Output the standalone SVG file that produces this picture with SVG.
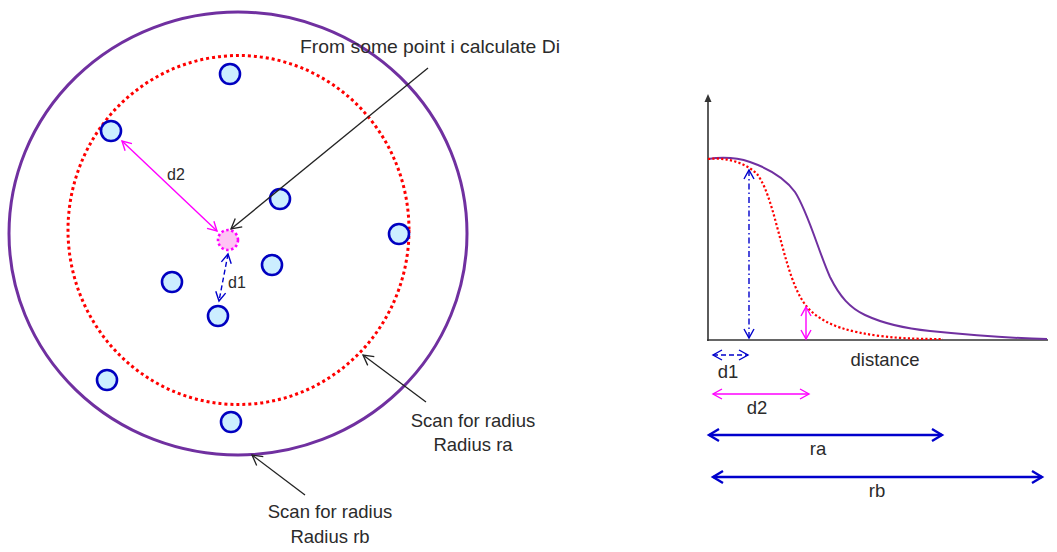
<svg xmlns="http://www.w3.org/2000/svg" width="1057" height="552" viewBox="0 0 1057 552">
<style>
text{font-family:"Liberation Sans",Arial,sans-serif;fill:#2b2b2b}
.lbl{font-size:18.5px}
.sm{font-size:16px}
.pt{fill:#cceeff;stroke:#0000c0;stroke-width:2.6}
.blk{stroke:#222;stroke-width:1.3;fill:none}
</style>
<defs>
<marker id="mBlk" markerUnits="userSpaceOnUse" viewBox="0 0 12 12" refX="11" refY="6" markerWidth="12" markerHeight="12" orient="auto-start-reverse" overflow="visible"><path d="M1,0.5 L11,6 L1,11.5" fill="none" stroke="#222" stroke-width="1.3"/></marker>
<marker id="mMag" markerUnits="userSpaceOnUse" viewBox="0 0 12 12" refX="11" refY="6" markerWidth="12" markerHeight="12" orient="auto-start-reverse" overflow="visible"><path d="M2,1 L11,6 L2,11" fill="none" stroke="#ff00ff" stroke-width="1.4"/></marker>
<marker id="mBlu" markerUnits="userSpaceOnUse" viewBox="0 0 12 12" refX="11" refY="6" markerWidth="12" markerHeight="12" orient="auto-start-reverse" overflow="visible"><path d="M2,1 L11,6 L2,11" fill="none" stroke="#0000cc" stroke-width="1.4"/></marker>
<marker id="mBluT" markerUnits="userSpaceOnUse" viewBox="0 0 14 14" refX="12" refY="7" markerWidth="14" markerHeight="14" orient="auto-start-reverse" overflow="visible"><path d="M2,1 L12,7 L2,13" fill="none" stroke="#0000cc" stroke-width="2.4"/></marker>
</defs>

<g id="rings">
<ellipse id="ring-rb" cx="238" cy="233.5" rx="229" ry="221.5" fill="none" stroke="#7030a0" stroke-width="3"/>
<ellipse id="ring-ra" cx="238.5" cy="230" rx="170.5" ry="174.5" fill="none" stroke="#ff0000" stroke-width="3" stroke-dasharray="3 3"/>
</g>

<g id="points">
<g id="p1"><circle class="pt" cx="230" cy="74" r="10"/></g>
<g id="p2"><circle class="pt" cx="111" cy="131" r="10"/></g>
<g id="p3"><circle class="pt" cx="280" cy="199" r="10"/></g>
<g id="p4"><circle class="pt" cx="399" cy="234" r="10"/></g>
<g id="p5"><circle class="pt" cx="172" cy="282" r="10"/></g>
<g id="p6"><circle class="pt" cx="272" cy="265" r="10"/></g>
<g id="p7"><circle class="pt" cx="218" cy="316" r="10"/></g>
<g id="p8"><circle class="pt" cx="107" cy="380" r="10"/></g>
<g id="p9"><circle class="pt" cx="231" cy="422" r="10"/></g>
<g id="pi"><circle cx="228" cy="240" r="10" fill="#ffc4f4" stroke="#ff00ff" stroke-width="2.6" stroke-dasharray="2.5 2.5"/></g>
</g>

<g id="connectors">
<line x1="428" y1="68" x2="231" y2="229" class="blk" marker-end="url(#mBlk)"/>
<line x1="426" y1="402" x2="363" y2="355" class="blk" marker-end="url(#mBlk)"/>
<line x1="305" y1="495" x2="252" y2="455" class="blk" marker-end="url(#mBlk)"/>
<line x1="122" y1="141" x2="217" y2="231" stroke="#ff00ff" stroke-width="1.4" marker-start="url(#mMag)" marker-end="url(#mMag)"/>
<line x1="228" y1="254" x2="219" y2="301" stroke="#0000cc" stroke-width="1.4" stroke-dasharray="5 3" marker-start="url(#mBlu)" marker-end="url(#mBlu)"/>
</g>

<g id="labels-left">
<text class="lbl" x="300" y="53" textLength="260" lengthAdjust="spacingAndGlyphs">From some point i calculate Di</text>
<text class="sm" x="176" y="180" text-anchor="middle">d2</text>
<text class="sm" x="237" y="288" text-anchor="middle">d1</text>
<text class="lbl" x="473" y="427" text-anchor="middle">Scan for radius</text>
<text class="lbl" x="473" y="451" text-anchor="middle">Radius ra</text>
<text class="lbl" x="330" y="518" text-anchor="middle">Scan for radius</text>
<text class="lbl" x="330" y="543" text-anchor="middle">Radius rb</text>
</g>

<g id="chart">
<line x1="708" y1="101" x2="708" y2="341" stroke="#333" stroke-width="1.6"/>
<path d="M708,94 L704.5,102 L711.5,102 Z" fill="#333"/>
<line x1="707" y1="340" x2="1048" y2="340" stroke="#333" stroke-width="1.6"/>
<path id="curve-rb" d="M708,159 C722,157 738,158 750,162 C770,169 785,178 795,192 C808,212 818,250 830,277 C840,297 850,308 865,315 C880,322 900,328 930,331 C960,334 1000,338 1047,339" fill="none" stroke="#7030a0" stroke-width="2"/>
<path id="curve-ra" d="M708,159 C725,157 745,162 757,174 C768,188 775,220 782,245 C790,275 798,300 812,312 C828,326 850,332 880,336 C905,339 925,339 943,339" fill="none" stroke="#ff0000" stroke-width="2.2" stroke-dasharray="2.2 2.2"/>
<line x1="749" y1="170" x2="749" y2="338" stroke="#0000cc" stroke-width="1.4" stroke-dasharray="6 3 1.5 3" marker-start="url(#mBlu)" marker-end="url(#mBlu)"/>
<line x1="806" y1="307" x2="806" y2="339" stroke="#ff00ff" stroke-width="1.4" marker-start="url(#mMag)" marker-end="url(#mMag)"/>
<line x1="713" y1="355" x2="748" y2="355" stroke="#0000cc" stroke-width="1.4" stroke-dasharray="5 3" marker-start="url(#mBlu)" marker-end="url(#mBlu)"/>
<line x1="713" y1="394" x2="809" y2="394" stroke="#ff00ff" stroke-width="1.4" marker-start="url(#mMag)" marker-end="url(#mMag)"/>
<line x1="709" y1="435" x2="942" y2="435" stroke="#0000cc" stroke-width="2.4" marker-start="url(#mBluT)" marker-end="url(#mBluT)"/>
<line x1="713" y1="477" x2="1042" y2="477" stroke="#0000cc" stroke-width="2.4" marker-start="url(#mBluT)" marker-end="url(#mBluT)"/>
<text class="lbl" x="885" y="366" text-anchor="middle">distance</text>
<text class="lbl" x="728" y="378" text-anchor="middle">d1</text>
<text class="lbl" x="757" y="414" text-anchor="middle">d2</text>
<text class="lbl" x="818" y="455" text-anchor="middle">ra</text>
<text class="lbl" x="877" y="497" text-anchor="middle">rb</text>
</g>
</svg>
